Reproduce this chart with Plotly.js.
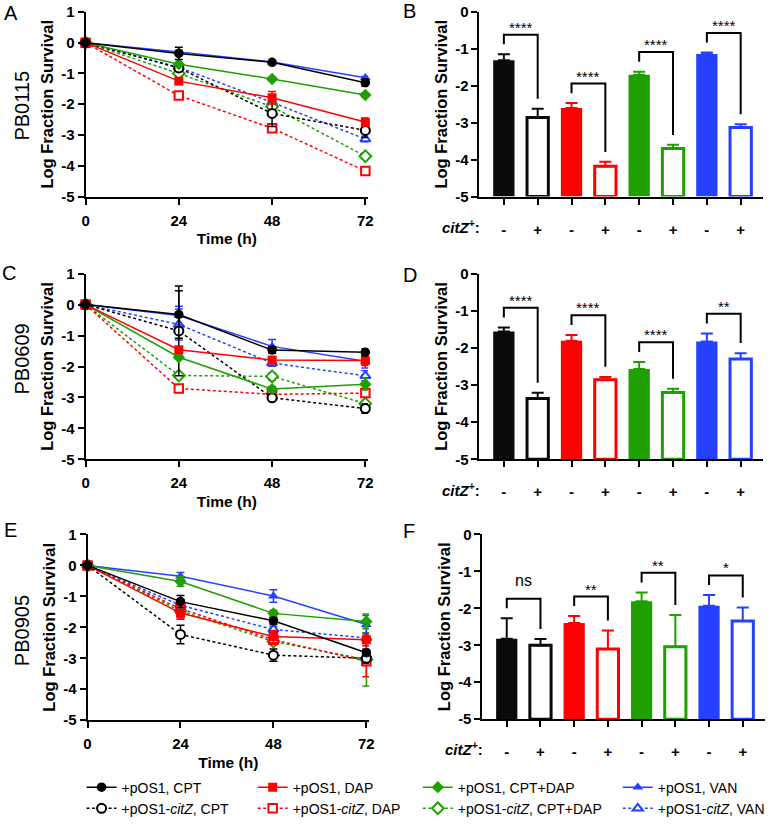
<!DOCTYPE html>
<html>
<head>
<meta charset="utf-8">
<script src="https://cdn.plot.ly/plotly-3.0.1.min.js"></script>
<style>html,body{margin:0;padding:0;background:#fff}#chart{width:770px;height:825px}</style>
</head>
<body>
<div id="chart"></div>
<script>
// ---------------- DATA ----------------
const timePoints = [0, 24, 48, 72];
const timeTickText = ["0", "24", "48", "72"];
const lineYTickVals = [1, 0, -1, -2, -3, -4, -5];
const lineYTickText = ["1", "0", "-1", "-2", "-3", "-4", "-5"];
const barYTickVals = [0, -1, -2, -3, -4, -5];
const barYTickText = ["0", "-1", "-2", "-3", "-4", "-5"];

const seriesLabels = [
  "+pOS1, CPT", "+pOS1, DAP", "+pOS1, CPT+DAP", "+pOS1, VAN",
  "+pOS1-<i>citZ</i>, CPT", "+pOS1-<i>citZ</i>, DAP", "+pOS1-<i>citZ</i>, CPT+DAP", "+pOS1-<i>citZ</i>, VAN"
];
const strains = ["PB0115", "PB0609", "PB0905"];
const panelLetters = ["A", "B", "C", "D", "E", "F"];

// Panel A : PB0115 (log fraction survival, mean, SD)
const A_pOS1_CPT     = [0, -0.35, -0.64, -1.30];
const A_pOS1_DAP     = [0, -1.25, -1.79, -2.58];
const A_pOS1_CPTDAP  = [0, -0.70, -1.18, -1.70];
const A_pOS1_VAN     = [0, -0.30, -0.63, -1.14];
const A_citZ_CPT     = [0, -0.82, -2.30, -2.85];
const A_citZ_DAP     = [0, -1.72, -2.78, -4.17];
const A_citZ_CPTDAP  = [0, -1.00, -2.08, -3.69];
const A_citZ_VAN     = [0, -0.80, -1.94, -3.13];
const A_err_pOS1_CPT    = [0, 0.20, 0.05, 0.12];
const A_err_pOS1_DAP    = [0, 0.06, 0.20, 0.13];
const A_err_pOS1_CPTDAP = [0, 0.05, 0.05, 0.07];
const A_err_pOS1_VAN    = [0, 0.05, 0.05, 0.04];
const A_err_citZ_CPT    = [0, 0.10, 0.42, 0.23];
const A_err_citZ_DAP    = [0, 0.05, 0.10, 0.12];
const A_err_citZ_CPTDAP = [0, 0.05, 0.10, 0.10];
const A_err_citZ_VAN    = [0, 0.05, 0.10, 0.09];

// Panel C : PB0609
const C_pOS1_CPT     = [0, -0.32, -1.47, -1.54];
const C_pOS1_DAP     = [0, -1.46, -1.79, -1.81];
const C_pOS1_CPTDAP  = [0, -1.70, -2.73, -2.57];
const C_pOS1_VAN     = [0, -0.35, -1.35, -1.83];
const C_citZ_CPT     = [0, -0.85, -3.01, -3.36];
const C_citZ_DAP     = [0, -2.71, -2.90, -2.86];
const C_citZ_CPTDAP  = [0, -2.29, -2.32, -3.20];
const C_citZ_VAN     = [0, -0.64, -1.89, -2.30];
const C_err_pOS1_CPT    = [0, 0.77, 0.10, 0.11];
const C_err_pOS1_DAP    = [0, 0.10, 0.10, 0.16];
const C_err_pOS1_CPTDAP = [0, 0.05, 0.08, 0.19];
const C_err_pOS1_VAN    = [0, 0.30, 0.22, 0.22];
const C_err_citZ_CPT    = [0, 1.45, 0.08, 0.15];
const C_err_citZ_DAP    = [0, 0.05, 0.05, 0.08];
const C_err_citZ_CPTDAP = [0, 0.05, 0.12, 0.10];
const C_err_citZ_VAN    = [0, 0.50, 0.10, 0.16];

// Panel E : PB0905
const E_pOS1_CPT     = [0, -1.17, -1.79, -2.82];
const E_pOS1_DAP     = [0, -1.54, -2.30, -2.40];
const E_pOS1_CPTDAP  = [0, -0.52, -1.55, -1.81];
const E_pOS1_VAN     = [0, -0.35, -0.99, -1.91];
const E_citZ_CPT     = [0, -2.23, -2.90, -3.00];
const E_citZ_DAP     = [0, -1.40, -2.40, -3.10];
const E_citZ_CPTDAP  = [0, -1.47, -2.46, -3.04];
const E_citZ_VAN     = [0, -1.29, -2.07, -2.34];
const E_err_pOS1_CPT    = [0, 0.20, 0.10, 0.10];
const E_err_pOS1_DAP    = [0, 0.20, 0.20, 0.19];
const E_err_pOS1_CPTDAP = [0, 0.15, 0.10, 0.24];
const E_err_pOS1_VAN    = [0, 0.12, 0.20, 0.29];
const E_err_citZ_CPT    = [0, 0.30, 0.20, 0.17];
const E_err_citZ_DAP    = [0, 0.30, 0.15, 0.50];
const E_err_citZ_CPTDAP = [0, 0.10, 0.10, 0.86];
const E_err_citZ_VAN    = [0, 0.10, 0.10, 0.36];

// Bar panels (72 h) : order CPT-, CPT+, DAP-, DAP+, CPT+DAP-, CPT+DAP+, VAN-, VAN+
const citZSigns = ["-", "+", "-", "+", "-", "+", "-", "+"];
const B_values = [-1.31, -2.86, -2.60, -4.18, -1.70, -3.70, -1.14, -3.13];
const B_errors = [0.16, 0.24, 0.13, 0.12, 0.08, 0.10, 0.04, 0.09];
const D_values = [-1.56, -3.36, -1.81, -2.86, -2.57, -3.20, -1.83, -2.30];
const D_errors = [0.11, 0.15, 0.16, 0.08, 0.19, 0.10, 0.22, 0.16];
const F_values = [-2.82, -3.00, -2.40, -3.10, -1.81, -3.04, -1.93, -2.34];
const F_errors = [0.55, 0.17, 0.19, 0.50, 0.24, 0.86, 0.29, 0.36];
const B_sig = ["****", "****", "****", "****"];
const D_sig = ["****", "****", "****", "**"];
const F_sig = ["ns", "**", "**", "*"];

// ---------------- STYLE ----------------
const W = 770, H = 825;
const FONT = "Liberation Sans, Arial, sans-serif";
const colors = ["#000000", "#ff0000", "#1fa000", "#2541ff"];
const barFill = ["#0a0a0a", "#ff0000", "#1fa000", "#2541ff"];
const symbols = ["circle", "square", "diamond", "triangle-up"];
const filledSizes = [9.5, 9, 9.5, 9.5];
const openSizes = [9, 8.5, 9, 9];
const legendIds = ["legend", "legend2", "legend3", "legend4"];
const legendX = [82, 254, 420, 621];

function px(x) { return x / W; }
function py(y) { return 1 - y / H; }

// panel boxes in pixels: [x0, x1, yTop, yBottom]
const boxes = {
  A: [86, 370, 12, 199],
  B: [482, 767, 12, 199],
  C: [86, 370, 277, 465],
  D: [482, 767, 277, 465],
  E: [88, 371, 541, 729],
  F: [485, 769, 541, 728]
};

const traces = [];
const layout = {
  width: W, height: H,
  margin: {l: 0, r: 0, t: 0, b: 0},
  paper_bgcolor: "#fff", plot_bgcolor: "rgba(0,0,0,0)",
  font: {family: FONT, color: "#000", size: 14},
  barmode: "overlay",
  shapes: [], annotations: []
};

const lineData = {
  A: {mean: [A_pOS1_CPT, A_pOS1_DAP, A_pOS1_CPTDAP, A_pOS1_VAN, A_citZ_CPT, A_citZ_DAP, A_citZ_CPTDAP, A_citZ_VAN],
      err: [A_err_pOS1_CPT, A_err_pOS1_DAP, A_err_pOS1_CPTDAP, A_err_pOS1_VAN, A_err_citZ_CPT, A_err_citZ_DAP, A_err_citZ_CPTDAP, A_err_citZ_VAN]},
  C: {mean: [C_pOS1_CPT, C_pOS1_DAP, C_pOS1_CPTDAP, C_pOS1_VAN, C_citZ_CPT, C_citZ_DAP, C_citZ_CPTDAP, C_citZ_VAN],
      err: [C_err_pOS1_CPT, C_err_pOS1_DAP, C_err_pOS1_CPTDAP, C_err_pOS1_VAN, C_err_citZ_CPT, C_err_citZ_DAP, C_err_citZ_CPTDAP, C_err_citZ_VAN]},
  E: {mean: [E_pOS1_CPT, E_pOS1_DAP, E_pOS1_CPTDAP, E_pOS1_VAN, E_citZ_CPT, E_citZ_DAP, E_citZ_CPTDAP, E_citZ_VAN],
      err: [E_err_pOS1_CPT, E_err_pOS1_DAP, E_err_pOS1_CPTDAP, E_err_pOS1_VAN, E_err_citZ_CPT, E_err_citZ_DAP, E_err_citZ_CPTDAP, E_err_citZ_VAN]}
};
const barData = {
  B: {v: B_values, e: B_errors, sig: B_sig},
  D: {v: D_values, e: D_errors, sig: D_sig},
  F: {v: F_values, e: F_errors, sig: F_sig}
};
const axisIdx = {A: 1, B: 2, C: 3, D: 4, E: 5, F: 6};

function axName(i, letter) { return letter + "axis" + (i === 1 ? "" : i); }
function axRef(i, letter) { return letter + (i === 1 ? "" : i); }

const tickFont = {family: FONT, size: 15, weight: "bold", color: "#000"};
const xTitleFont = {family: FONT, size: 15.5, weight: "bold", color: "#000"};
const yTitleFont = {family: FONT, size: 16.5, weight: "bold", color: "#000"};

function commonAxis() {
  return {showgrid: false, zeroline: false, showline: true, linecolor: "#000", linewidth: 2,
          ticks: "outside", ticklen: 6, tickwidth: 2, tickcolor: "#000", tickfont: tickFont, fixedrange: true};
}

// drawing order: dashed (open) series first, filled series last, black on top
const drawOrder = [7, 6, 5, 4, 3, 2, 1, 0];

// ---- line panels ----
["A", "C", "E"].forEach(p => {
  const i = axisIdx[p];
  const b = boxes[p];
  layout[axName(i, "x")] = Object.assign(commonAxis(), {
    domain: [px(b[0]), px(b[1])], range: [0, 72.7], anchor: axRef(i, "y"),
    tickvals: timePoints, ticktext: timeTickText, ticklabelstandoff: 3,
    title: {text: "Time (h)", font: xTitleFont, standoff: 6}
  });
  layout[axName(i, "y")] = Object.assign(commonAxis(), {
    domain: [py(b[3]), py(b[2])], range: [-5, 1], anchor: axRef(i, "x"),
    tickvals: lineYTickVals, ticktext: lineYTickText,
    title: {text: "Log Fraction Survival", font: yTitleFont, standoff: 3}
  });
  const d = lineData[p];
  drawOrder.forEach(s => {
    const c = s % 4;
    const open = s >= 4;
    traces.push({
      type: "scatter", mode: "lines+markers",
      x: timePoints, y: d.mean[s],
      xaxis: axRef(i, "x"), yaxis: axRef(i, "y"),
      name: seriesLabels[s],
      legend: legendIds[c], legendrank: open ? 2 : 1,
      showlegend: p === "A",
      cliponaxis: false,
      line: {color: colors[c], width: 1.5, dash: open ? "3px,2.5px" : "solid"},
      marker: {symbol: symbols[c], size: open ? openSizes[c] : filledSizes[c], color: open ? "#fff" : colors[c],
               line: {color: colors[c], width: open ? 2 : 0}},
      error_y: {type: "data", array: d.err[s], visible: true, color: colors[c], thickness: 1.5, width: 4},
      hoverinfo: "skip"
    });
  });
});

// ---- bar panels ----
const BASE = -5;
const GAP = 0.27, RISE = 0.26;
["B", "D", "F"].forEach(p => {
  const i = axisIdx[p];
  const b = boxes[p];
  const d = barData[p];
  const idx = d.v.map((_, k) => k);
  layout[axName(i, "x")] = Object.assign(commonAxis(), {
    domain: [px(b[0]), px(b[1])], range: [-0.72, 7.66], anchor: axRef(i, "y"),
    tickvals: idx, ticktext: citZSigns, ticklabelstandoff: 12
  });
  layout[axName(i, "y")] = Object.assign(commonAxis(), {
    domain: [py(b[3]), py(b[2])], range: [-5, 0], anchor: axRef(i, "x"),
    tickvals: barYTickVals, ticktext: barYTickText,
    title: {text: "Log Fraction Survival", font: yTitleFont, standoff: 3}
  });
  d.v.forEach((v, k) => {
    const c = Math.floor(k / 2);
    const open = k % 2 === 1;
    traces.push({
      type: "bar", x: [k], y: [v - BASE], base: BASE, width: 0.63,
      xaxis: axRef(i, "x"), yaxis: axRef(i, "y"), showlegend: false,
      marker: {color: open ? "#fff" : barFill[c], line: {color: barFill[c], width: open ? 3 : 0}},
      error_y: {type: "data", array: [d.e[k]], arrayminus: [0], symmetric: false, visible: true,
                color: barFill[c], thickness: 2, width: 6},
      hoverinfo: "skip"
    });
  });
  // significance brackets
  for (let g = 0; g < 4; g++) {
    const l = 2 * g, r = 2 * g + 1;
    const legL = d.v[l] + d.e[l] + GAP;
    const legR = d.v[r] + d.e[r] + GAP;
    const top = Math.max(legL, legR) + RISE;
    layout.shapes.push({
      type: "path", xref: axRef(i, "x"), yref: axRef(i, "y"),
      path: `M ${l},${legL} L ${l},${top} L ${r},${top} L ${r},${legR}`,
      line: {color: "#000", width: 2}
    });
    const isNs = d.sig[g] === "ns";
    layout.annotations.push({
      xref: axRef(i, "x"), yref: axRef(i, "y"), x: (l + r) / 2, y: top,
      text: d.sig[g], showarrow: false, yanchor: "bottom",
      yshift: isNs ? 8 : -3,
      font: {family: FONT, size: isNs ? 16 : 15, color: "#000"}
    });
  }
  // citZ+ row label
  layout.annotations.push({
    xref: "paper", yref: "paper", x: px(b[0] + 3), y: py(b[3] + 30),
    xanchor: "right", yanchor: "middle", showarrow: false,
    text: "<i>citZ</i><sup>+</sup>:", font: {family: FONT, size: 15, weight: "bold", color: "#000"}
  });
});

// panel letters
const letterPos = {A: [2, 13], B: [403, 11], C: [0, 276], D: [403, 278], E: [2, 536], F: [403, 538]};
panelLetters.forEach(L => {
  layout.annotations.push({
    xref: "paper", yref: "paper", x: px(letterPos[L][0]), y: py(letterPos[L][1]),
    xanchor: "left", yanchor: "middle", showarrow: false, text: L,
    font: {family: FONT, size: 20, color: "#000"}
  });
});
// strain labels
const strainY = [107, 363, 638];
strains.forEach((s, k) => {
  layout.annotations.push({
    xref: "paper", yref: "paper", x: px(22), y: py(strainY[k]),
    xanchor: "center", yanchor: "middle", showarrow: false, text: s, textangle: -90,
    font: {family: FONT, size: 20, color: "#000"}
  });
});

// legends (one column per antibiotic)
legendIds.forEach((id, k) => {
  layout[id] = {
    x: px(legendX[k]), y: py(781), xanchor: "left", yanchor: "top",
    orientation: "v", bgcolor: "rgba(0,0,0,0)", borderwidth: 0,
    font: {family: FONT, size: 14, color: "#000"},
    itemwidth: 30, tracegroupgap: 0, itemclick: false, itemdoubleclick: false
  };
});

Plotly.newPlot("chart", traces, layout, {staticPlot: true, displayModeBar: false});
</script>
</body>
</html>
